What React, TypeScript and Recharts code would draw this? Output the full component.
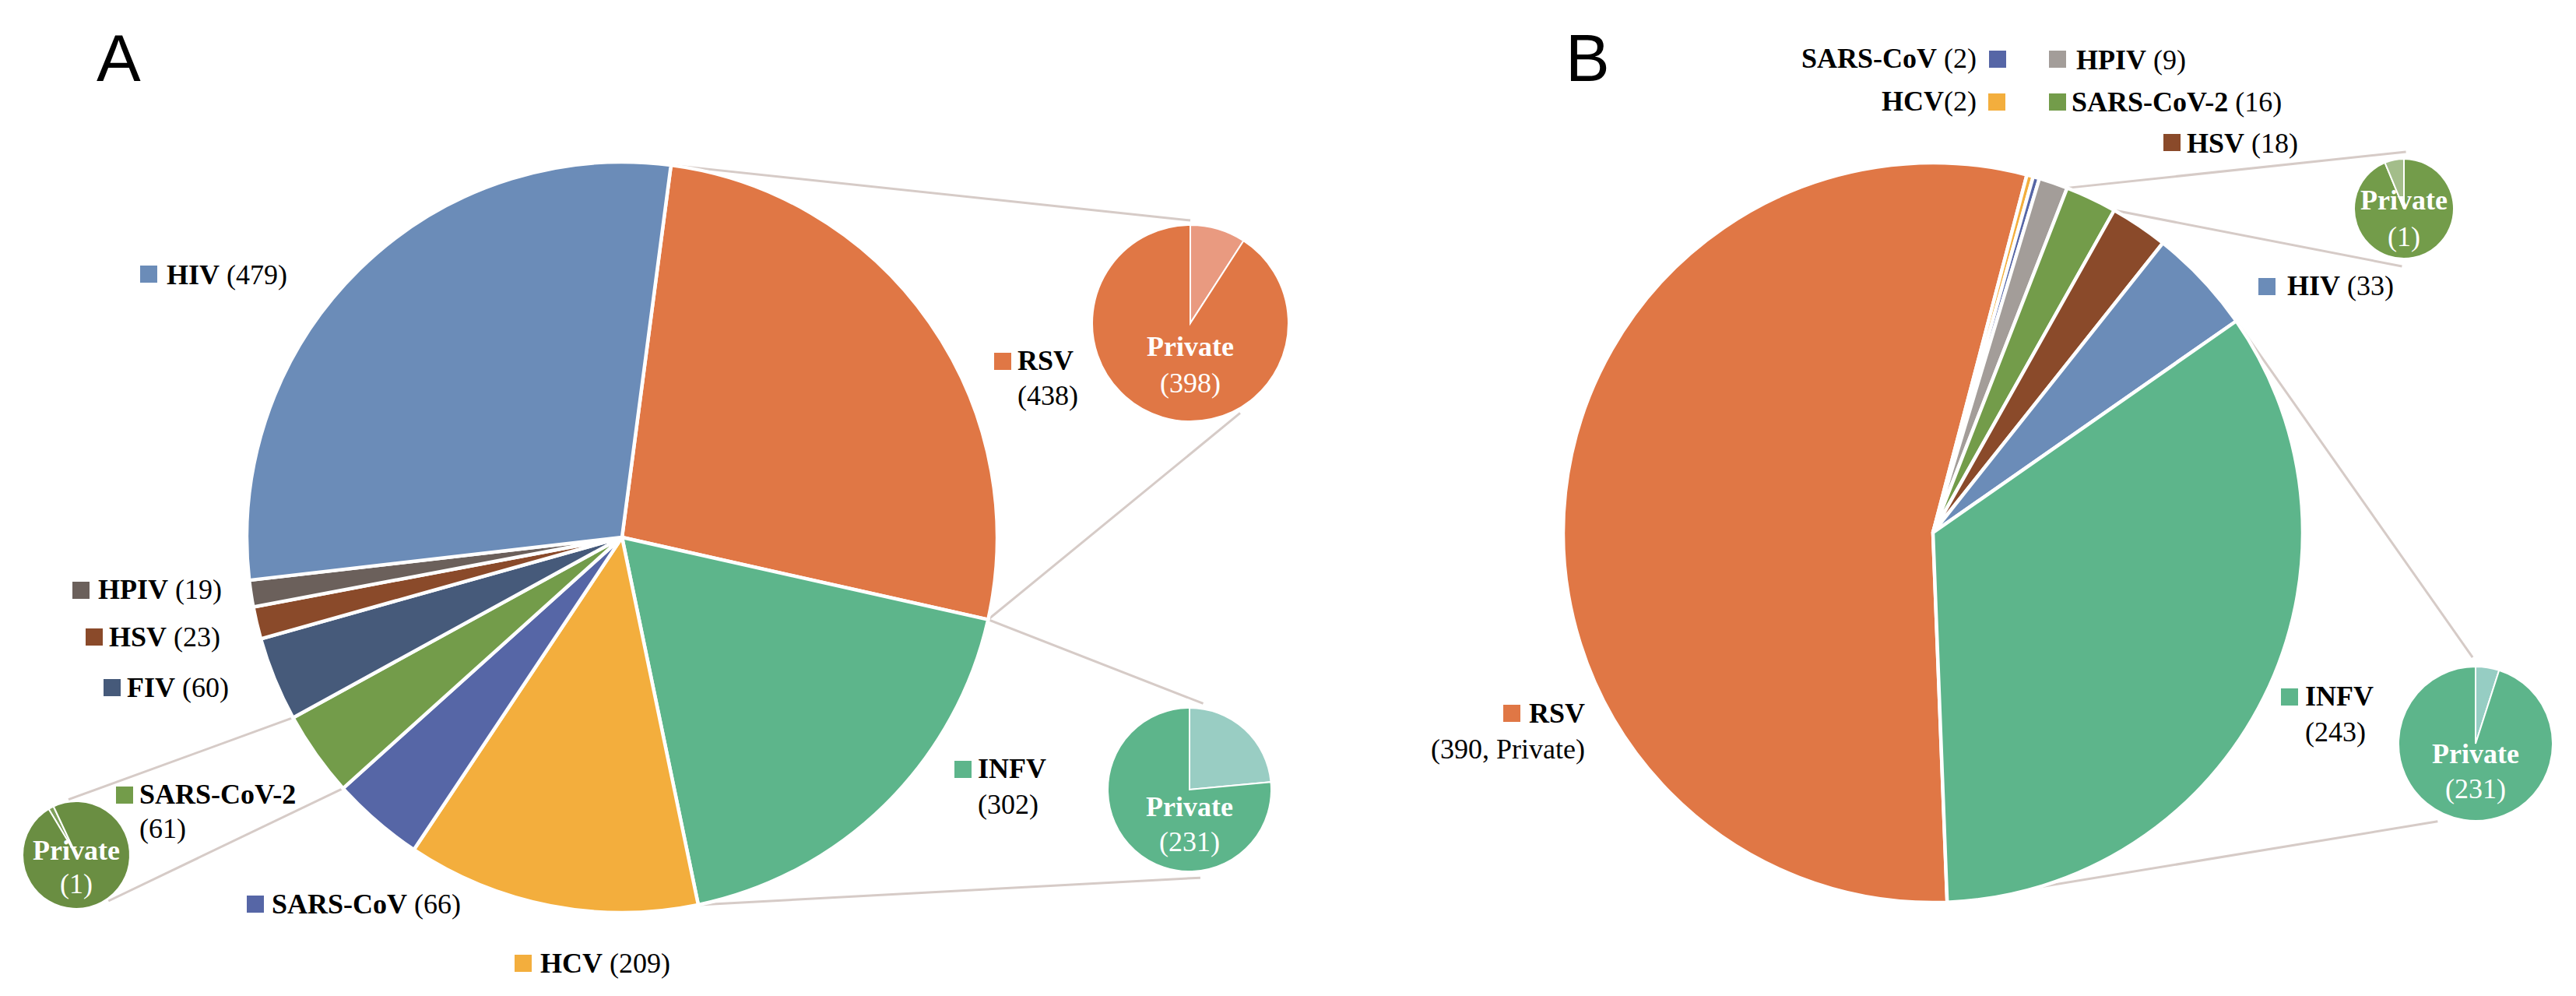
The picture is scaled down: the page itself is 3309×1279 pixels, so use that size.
import React from 'react'
import { PieChart, Pie, Cell, Customized } from 'recharts'

const W = 3309
const H = 1279

// Panel A – main pie, clockwise order starting at RSV
const namesA = ['RSV', 'INFV', 'HCV', 'SARS-CoV', 'SARS-CoV-2', 'FIV', 'HSV', 'HPIV', 'HIV']
const valuesA = [438, 302, 209, 66, 61, 60, 23, 19, 479]

// Panel B – main pie, clockwise order starting at RSV
const namesB = ['RSV', 'HCV', 'SARS-CoV', 'HPIV', 'SARS-CoV-2', 'HSV', 'HIV', 'INFV']
const valuesB = [390, 2, 2, 9, 16, 18, 33, 243]

// private counts shown in the small pies
const privateA: Record<string, number> = { RSV: 398, INFV: 231, 'SARS-CoV-2': 1 }
const privateB: Record<string, number> = { INFV: 231, 'SARS-CoV-2': 1 }

const COLORS_A: Record<string, string> = {
    HIV: '#6B8CB8', RSV: '#E07745', INFV: '#5DB58B', HCV: '#F3AE3D', 'SARS-CoV': '#5666A6',
    'SARS-CoV-2': '#739C4A', FIV: '#465A7A', HSV: '#8A4A2A', HPIV: '#6B605B',
}
const COLORS_B: Record<string, string> = { ...COLORS_A, HPIV: '#A39D99' }

// geometry (px, clockwise degrees from 12 o'clock)
const geoA = { cx: 799, cy: 690, r: 482, start: 7.5 }
const geoB = { cx: 2483, cy: 684, r: 475, start: 177.8 }

const subPies = [
    { panel: 'A', name: 'RSV', cx: 1529, cy: 415, r: 126, start: 0, minorFirst: true, main: '#E07745', light: '#E99A80', ends: [0, 151], gap: [6, 6], dy: [30, 77] },
    { panel: 'A', name: 'INFV', cx: 1528, cy: 1014, r: 105, start: 0, minorFirst: true, main: '#5DB58B', light: '#99CDC3', ends: [9, 173], gap: [7, 9], dy: [22, 67] },
    { panel: 'A', name: 'SARS-CoV-2', cx: 98, cy: 1098, r: 69, start: -31, minorFirst: true, main: '#6A8E42', light: '#7FA05C', ends: [-8, 145], gap: [3, 3], dy: [-6, 37] },
    { panel: 'B', name: 'SARS-CoV-2', cx: 3088, cy: 268, r: 64, start: 0, minorFirst: false, main: '#739C4A', light: '#A3BD8A', ends: [2, 182], gap: [9, 10], dy: [-11, 36] },
    { panel: 'B', name: 'INFV', cx: 3180, cy: 955, r: 99, start: 0, minorFirst: true, main: '#5DB58B', light: '#96CDC3', ends: [-2, 206], gap: [12, 12], dy: [13, 58] },
]

const labelsA = [
    { name: 'HIV', sq: [180, 341], tx: 214, ty: 353 },
    { name: 'RSV', sq: [1277, 453], tx: 1307, ty: 463, ty2: 508 },
    { name: 'INFV', sq: [1226, 977], tx: 1256, ty: 987, ty2: 1033 },
    { name: 'HCV', sq: [661, 1226], tx: 694, ty: 1237 },
    { name: 'SARS-CoV', sq: [317, 1150], tx: 349, ty: 1161 },
    { name: 'SARS-CoV-2', sq: [149, 1010], tx: 179, ty: 1020, ty2: 1064 },
    { name: 'FIV', sq: [133, 872], tx: 163, ty: 883 },
    { name: 'HSV', sq: [110, 807], tx: 140, ty: 818 },
    { name: 'HPIV', sq: [93, 747], tx: 126, ty: 757 },
]
const labelsB = [
    { name: 'SARS-CoV', sq: [2555, 65], tx: 2539, ty: 75, anchor: 'end' },
    { name: 'HCV', sq: [2554, 120], tx: 2539, ty: 130, anchor: 'end', tight: true },
    { name: 'HPIV', sq: [2632, 65], tx: 2667, ty: 77 },
    { name: 'SARS-CoV-2', sq: [2632, 120], tx: 2661, ty: 131 },
    { name: 'HSV', sq: [2779, 172], tx: 2809, ty: 184 },
    { name: 'HIV', sq: [2901, 357], tx: 2938, ty: 367 },
    { name: 'RSV', sq: [1931, 905], tx: 1964, ty: 916, ty2: 962, tx2: 2036, note: ', Private' },
    { name: 'INFV', sq: [2930, 884], tx: 2961, ty: 894, ty2: 940 },
]

const SERIF = '"Liberation Serif", "Times New Roman", serif'
const FS = 36
const LINE = '#D6CBC7'

const toRad = (d: number) => (d * Math.PI) / 180
const polar = (cx: number, cy: number, r: number, deg: number) => [cx + r * Math.sin(toRad(deg)), cy - r * Math.cos(toRad(deg))]

// clockwise edge angles of each slice
function sliceEdges(values: number[], start: number) {
    const total = values.reduce((a, b) => a + b, 0)
    let acc = start
    return values.map(v => {
        const a0 = acc
        acc += (v / total) * 360
        return [a0, acc]
    })
}

function subData(sp: typeof subPies[number]) {
    const names = sp.panel === 'A' ? namesA : namesB
    const values = sp.panel === 'A' ? valuesA : valuesB
    const priv = (sp.panel === 'A' ? privateA : privateB)[sp.name]
    const total = values[names.indexOf(sp.name)]
    const other = total - priv
    const minor = Math.min(priv, other)
    const major = Math.max(priv, other)
    return sp.minorFirst
        ? [{ value: minor, fill: sp.light }, { value: major, fill: sp.main }]
        : [{ value: major, fill: sp.main }, { value: minor, fill: sp.light }]
}

function Connectors() {
    return (
        <g>
            {subPies.map((sp, i) => {
                const names = sp.panel === 'A' ? namesA : namesB
                const values = sp.panel === 'A' ? valuesA : valuesB
                const geo = sp.panel === 'A' ? geoA : geoB
                const [a0, a1] = sliceEdges(values, geo.start)[names.indexOf(sp.name)]
                // the edge closer to the top goes to the top of the small pie
                const from = sp.panel === 'A' && sp.name === 'SARS-CoV-2' ? [a1, a0] : [a0, a1]
                return from.map((a, j) => {
                    const [x1, y1] = polar(geo.cx, geo.cy, geo.r, a)
                    const [x2, y2] = polar(sp.cx, sp.cy, sp.r + sp.gap[j], sp.ends[j])
                    return <line key={`${i}-${j}`} x1={x1} y1={y1} x2={x2} y2={y2} stroke={LINE} strokeWidth={3} />
                })
            })}
        </g>
    )
}

function Label({ l, value, color }: { l: any; value: number; color: string }) {
    const two = l.ty2 !== undefined
    const valueText = `(${value}${l.note ?? ''})`
    return (
        <g fontFamily={SERIF} fontSize={FS} fill="#000">
            <rect x={l.sq[0]} y={l.sq[1]} width={22} height={22} fill={color} />
            {two ? (
                <>
                    <text x={l.tx} y={l.ty + 12} fontWeight="bold">{l.name}</text>
                    <text x={l.tx2 ?? l.tx} y={l.ty2 + 12} textAnchor={l.tx2 ? 'end' : 'start'}>{valueText}</text>
                </>
            ) : (
                <text x={l.tx} y={l.ty + 12} textAnchor={l.anchor ?? 'start'}>
                    <tspan fontWeight="bold">{l.name}</tspan>
                    <tspan>{l.tight ? valueText : ` ${valueText}`}</tspan>
                </text>
            )}
        </g>
    )
}

export default function App() {
    const dataA = namesA.map((n, i) => ({ name: n, value: valuesA[i] }))
    const dataB = namesB.map((n, i) => ({ name: n, value: valuesB[i] }))

    return (
        <div style={{ position: 'relative', width: W, height: H, background: '#fff' }}>
            <style>{'body{margin:0;background:#fff}'}</style>
            <PieChart width={W} height={H} margin={{ top: 0, right: 0, bottom: 0, left: 0 }}>
                <Customized component={Connectors} />
                <Pie data={dataA} dataKey="value" cx={geoA.cx} cy={geoA.cy} outerRadius={geoA.r}
                    startAngle={90 - geoA.start} endAngle={90 - geoA.start - 360}
                    stroke="#fff" strokeWidth={4.5} isAnimationActive={false}>
                    {dataA.map(d => <Cell key={d.name} fill={COLORS_A[d.name]} />)}
                </Pie>
                <Pie data={dataB} dataKey="value" cx={geoB.cx} cy={geoB.cy} outerRadius={geoB.r}
                    startAngle={90 - geoB.start} endAngle={90 - geoB.start - 360}
                    stroke="#fff" strokeWidth={4.5} isAnimationActive={false}>
                    {dataB.map(d => <Cell key={d.name} fill={COLORS_B[d.name]} />)}
                </Pie>
                {subPies.map((sp, i) => {
                    const d = subData(sp)
                    return (
                        <Pie key={i} data={d} dataKey="value" cx={sp.cx} cy={sp.cy} outerRadius={sp.r}
                            startAngle={90 - sp.start} endAngle={90 - sp.start - 360}
                            stroke="#fff" strokeWidth={2} isAnimationActive={false}>
                            {d.map((s, k) => <Cell key={k} fill={s.fill} />)}
                        </Pie>
                    )
                })}
            </PieChart>
            <svg width={W} height={H} style={{ position: 'absolute', left: 0, top: 0, pointerEvents: 'none' }}>
                <text x={124} y={104} fontFamily='"Liberation Sans", Arial, sans-serif' fontSize={85}>A</text>
                <text x={2011} y={104} fontFamily='"Liberation Sans", Arial, sans-serif' fontSize={85}>B</text>
                {labelsA.map(l => (
                    <Label key={`a-${l.name}`} l={l} value={valuesA[namesA.indexOf(l.name)]} color={COLORS_A[l.name]} />
                ))}
                {labelsB.map(l => (
                    <Label key={`b-${l.name}`} l={l} value={valuesB[namesB.indexOf(l.name)]} color={COLORS_B[l.name]} />
                ))}
                {subPies.map((sp, i) => {
                    const priv = (sp.panel === 'A' ? privateA : privateB)[sp.name]
                    return (
                        <g key={i} fontFamily={SERIF} fontSize={FS} fill="#fff" textAnchor="middle">
                            <text x={sp.cx} y={sp.cy + sp.dy[0] + 12} fontWeight="bold">Private</text>
                            <text x={sp.cx} y={sp.cy + sp.dy[1] + 12}>({priv})</text>
                        </g>
                    )
                })}
            </svg>
        </div>
    )
}
